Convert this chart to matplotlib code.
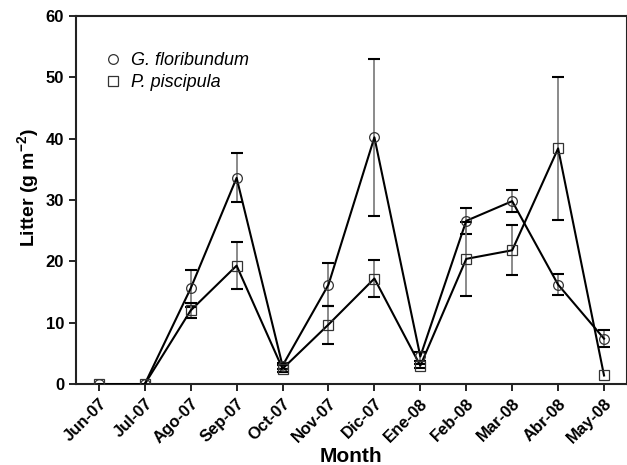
import matplotlib.pyplot as plt
import numpy as np

plt.rcParams['font.family'] = ['Liberation Sans', 'DejaVu Sans']
plt.rcParams['mathtext.fontset'] = 'custom'
plt.rcParams['mathtext.bf'] = 'Liberation Sans:bold'
plt.rcParams['mathtext.rm'] = 'Liberation Sans:bold'
plt.rcParams['mathtext.default'] = 'bf'

months = ['Jun-07', 'Jul-07', 'Ago-07', 'Sep-07', 'Oct-07', 'Nov-07',
          'Dic-07', 'Ene-08', 'Feb-08', 'Mar-08', 'Abr-08', 'May-08']
g_flori = [0, 0, 15.6, 33.6, 3.0, 16.2, 40.2, 4.5, 26.6, 29.8, 16.2, 7.4]
g_err = [0, 0, 3.0, 4.0, 0.5, 3.5, 12.8, 0.8, 2.1, 1.8, 1.7, 1.4]
p_pisc = [0, 0, 12.0, 19.3, 2.5, 9.7, 17.2, 3.0, 20.4, 21.8, 38.4, 1.4]
p_err = [0, 0, 1.2, 3.8, 0.6, 3.1, 3.0, 0.3, 6.0, 4.1, 11.6, 0]

x = np.arange(len(months))

fig = plt.figure(figsize=(6.27, 4.65), dpi=100)
ax = fig.add_axes([0.121, 0.174, 0.879, 0.792])

for vals, errs, mk, lab in [(g_flori, g_err, 'o', 'G. floribundum'),
                            (p_pisc, p_err, 's', 'P. piscipula')]:
    ax.errorbar(x, vals, yerr=errs, fmt='none', ecolor='#777777', elinewidth=1.2,
                capsize=0, zorder=2)
    # black caps
    v = np.array(vals)
    e = np.array(errs)
    m = e > 0
    ax.plot(x[m], v[m] + e[m], ls='none', marker='_', ms=8, mew=1.5, color='black', zorder=2)
    ax.plot(x[m], v[m] - e[m], ls='none', marker='_', ms=8, mew=1.5, color='black', zorder=2)
    ax.plot(x, vals, color='black', lw=1.5, zorder=3)
    ax.plot(x, vals, ls='none', marker=mk, ms=7, mfc='none', mec='#333333', mew=0.9,
            zorder=4, label=lab)

ax.set_xlim(-0.5, 11.5)
ax.set_ylim(0, 60)
ax.set_yticks([0, 10, 20, 30, 40, 50, 60])
ax.set_xticks(x)
ax.set_xticklabels(months, rotation=45, ha='right', rotation_mode='anchor')
ax.tick_params(direction='out', length=5, width=1.2, labelsize=12)
for lbl in ax.get_xticklabels() + ax.get_yticklabels():
    lbl.set_fontweight('bold')
for s in ax.spines.values():
    s.set_linewidth(1.5)
    s.set_color('#222222')

ax.set_xlabel('Month', fontsize=15, fontweight='bold', va='baseline')
ax.xaxis.set_label_coords(0.5, -0.212)
ax.set_ylabel('Litter (g m$^{-2}$)', fontsize=14, fontweight='bold')
ax.yaxis.set_label_coords(-0.064, 0.535)

leg = ax.legend(loc='upper left', bbox_to_anchor=(0.022, 0.945), frameon=False,
                prop={'style': 'italic', 'size': 13}, handletextpad=0.5,
                labelspacing=0.25, handlelength=1)

fig.savefig('out.png', dpi=100)
